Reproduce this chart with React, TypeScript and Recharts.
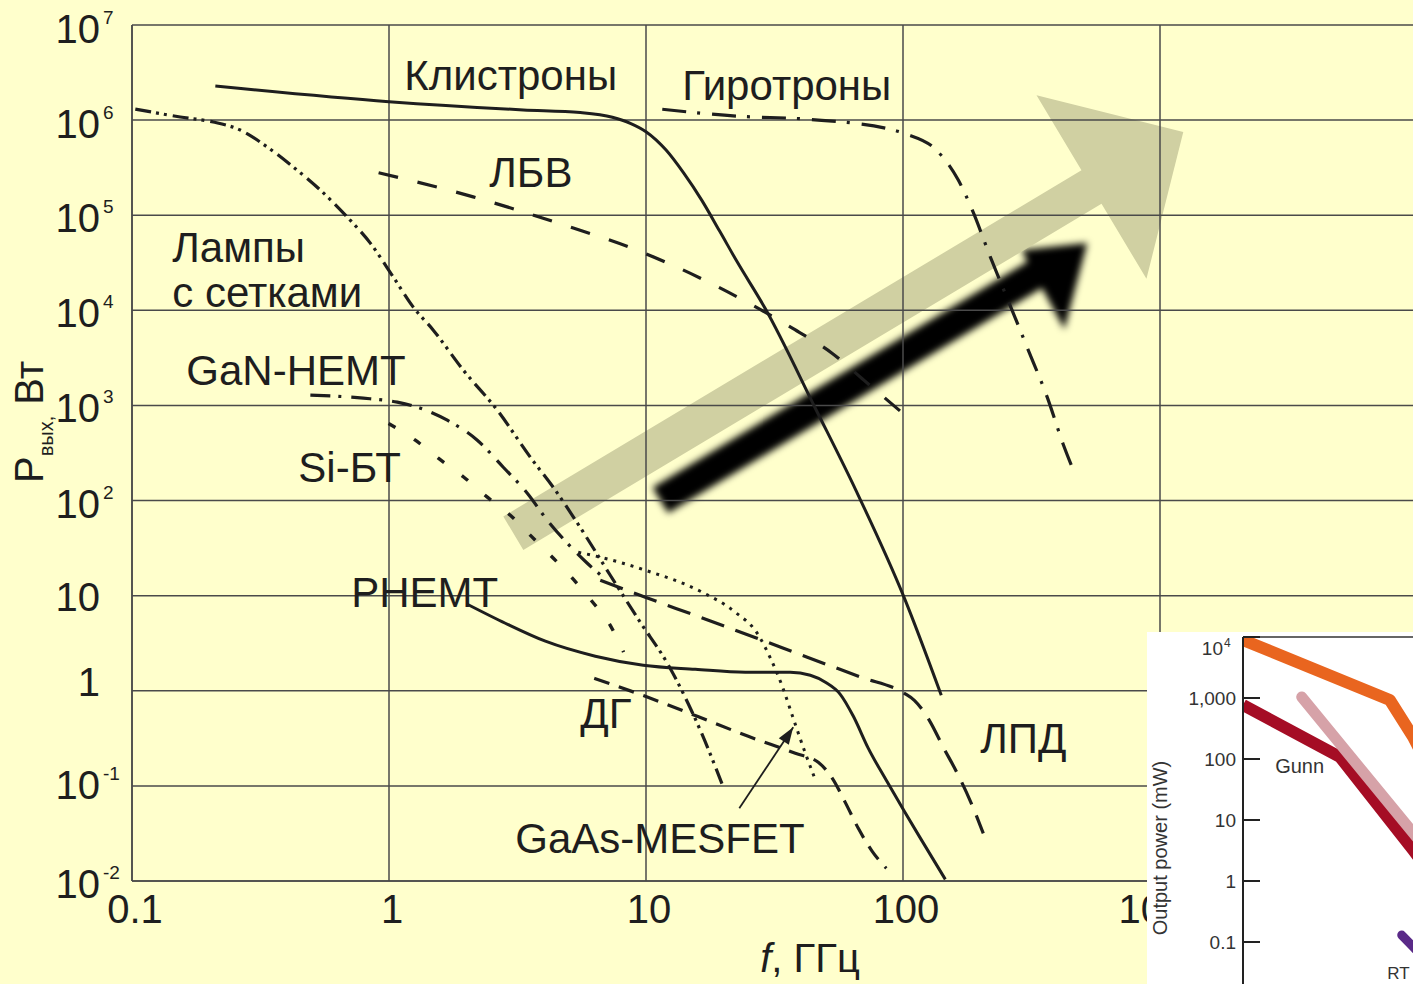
import React from 'react';
import { LineChart, Line, XAxis, YAxis, CartesianGrid, ReferenceLine, ReferenceDot } from 'recharts';

const FONT = '"Liberation Sans", Arial, Helvetica, sans-serif';
const INK = '#1e1e1e';
const GRID = '#4a4a4a';
const BG = '#FFFFCC';

// ---------- main chart axes ----------
const freqTicks = [0.1, 1, 10, 100, 1000];
const freqTickLabels = ['0.1', '1', '10', '100', '1000'];
const powerTicks = [0.01, 0.1, 1, 10, 100, 1000, 1e4, 1e5, 1e6, 1e7];
const powerTickBase = ['10', '10', '1', '10', '10', '10', '10', '10', '10', '10'];
const powerTickExp = ['-2', '-1', '', '', '2', '3', '4', '5', '6', '7'];

// ---------- main chart series (f in GHz, P in W) ----------
const klystronF = [0.211, 1.0, 3.33, 5.55, 7.4, 8.69, 10.0, 11.97, 14.05, 16.47, 19.34, 22.66, 29.07, 46.0, 65.6, 100.8, 140.9];
const klystronP = [2.28e6, 1.56e6, 1.28e6, 1.2e6, 1.07e6, 9.25e5, 7.55e5, 4.84e5, 2.75e5, 1.44e5, 6.81e4, 3.215e4, 1.05e4, 891, 128, 9.7, 0.896];

const gyrotronF = [11.57, 22.66, 43.05, 91.7, 102.8, 134.8, 164.1, 186.1, 218.6, 261, 308, 364, 420, 455];
const gyrotronP = [1.3e6, 1.1e6, 1.02e6, 7.86e5, 7.14e5, 4.84e5, 2.34e5, 1.13e5, 3.65e4, 1.13e4, 3750, 1222, 391, 224];

const twtF = [0.911, 2.126, 4.58, 9.56, 19.01, 37.25, 53.1, 70.4, 97.6];
const twtP = [2.8e5, 1.56e5, 8.21e4, 4.13e4, 1.77e4, 6450, 3522, 1845, 871];

const gridTubeF = [0.103, 0.1541, 0.2072, 0.2639, 0.3362, 0.4242, 0.5403, 0.6882, 0.8458, 1.039, 1.243, 1.487, 1.946, 2.638, 3.546, 4.437, 5.7, 7.26, 9.5, 12.1, 16.27, 20.0];
const gridTubeP = [1.307e6, 1.078e6, 9.54e5, 7.86e5, 5.21e5, 3.21e5, 1.84e5, 9.56e4, 5.09e4, 2.24e4, 1.08e4, 6190, 2350, 892, 286, 128.5, 46.5, 16.4, 5.25, 1.95, 0.384, 0.0966];

const ganF = [0.4943, 0.794, 1.077, 1.324, 1.686, 2.206, 2.784, 3.452, 4.13, 4.94, 5.91, 6.82];
const ganP = [1283, 1193, 1082, 936, 700, 431, 224, 119.5, 62.1, 35.6, 21.9, 15.6];

const impattF = [6.64, 9.94, 16.27, 26.39, 42.43, 68.8, 101.2, 110.7, 126.6, 143.5, 162.7, 184.4, 205.3];
const impattP = [14.53, 9.62, 5.93, 3.65, 2.25, 1.387, 0.941, 0.794, 0.489, 0.2544, 0.1355, 0.0655, 0.0317];

const siBtF = [0.996, 1.266, 1.56, 1.951, 2.406, 2.965, 3.6, 4.37, 5.21, 6.16, 7.26, 8.18];
const siBtP = [646, 431, 277, 177, 109.2, 70.1, 41.5, 24.6, 14.9, 8.74, 4.88, 2.55];

const phemtF = [2.017, 2.835, 4.06, 6.35, 9.76, 15.55, 24.34, 36.4, 43.6, 49.9, 57.0, 64.1, 73.3, 86.1, 101.2, 118.9, 146.1];
const phemtP = [8.125, 5.13, 3.32, 2.31, 1.854, 1.683, 1.565, 1.565, 1.455, 1.228, 0.918, 0.539, 0.248, 0.1144, 0.054, 0.0261, 0.0104];

const gunnF = [6.29, 9.94, 15.83, 25.0, 38.1, 46.8, 53.1, 59.6, 67.0, 75.9, 86.1];
const gunnP = [1.353, 0.875, 0.539, 0.332, 0.22, 0.177, 0.12, 0.0671, 0.0358, 0.0205, 0.0136];

const mesfetF = [5.45, 6.64, 9.94, 16.27, 22.26, 27.1, 30.5, 33.9, 37.4, 41.3, 45.2];
const mesfetP = [28.6, 25.4, 18.5, 11.13, 6.69, 4.02, 2.196, 1.115, 0.514, 0.2366, 0.123];

// ---------- in-plot labels ----------
const labelTexts = ['Клистроны', 'Гиротроны', 'ЛБВ', 'Лампы', 'с сетками', 'GaN-HEMT', 'Si-БТ', 'PHEMT', 'ДГ', 'GaAs-MESFET', 'ЛПД'];
const labelF = [1.147, 13.84, 2.456, 0.1435, 0.1435, 0.1627, 0.4437, 0.713, 5.55, 3.1, 199.9];
const labelP = [2.07e6, 1.626e6, 1.977e5, 3.215e4, 1.08e4, 1634, 156, 7.55, 0.403, 0.01953, 0.22];

// ---------- arrows (data coordinates: from -> to) ----------
const trendArrowF = [3.046, 1232];
const trendArrowP = [45.4, 7.49e5];
const shadowArrowF = [11.37, 521];
const shadowArrowP = [100.8, 5.09e4];
const pointerF = [23.07, 37.4];
const pointerP = [0.0581, 0.413];

// ---------- inset chart ----------
const insetTicks = [0.1, 1, 10, 100, 1000, 10000];
const insetTickLabels = ['0.1', '1', '10', '100', '1,000', '10'];
const insetTickExp = ['', '', '', '', '', '4'];
const insetOrangeF = [10, 76, 105, 152];
const insetOrangeP = [8930, 927, 230, 31];
const insetRedF = [10, 38.2, 105, 152];
const insetRedP = [767, 108, 3.22, 0.86];
const insetPinkF = [22.5, 105, 152];
const insetPinkP = [1038, 6.12, 1.76];
const insetPurpleF = [89.6, 105, 152];
const insetPurpleP = [0.13, 0.083, 0.0288];
const insetLabelTexts = ['Gunn', 'RT'];
const insetLabelF = [15.6, 73.3];
const insetLabelP = [58.9, 0.0245];

const zip = (f: number[], p: number[]) => f.map((v, i) => ({ f: v, p: p[i] }));

const sameLog = (a: number, b: number) => Math.abs(Math.log10(a) - Math.log10(b)) < 1e-6;

// style offsets for y tick labels (baseline below grid line)
const POWER_TICK_DY = [17, 13, 5, 15, 17, 17, 17, 17, 18, 18];

const PowerTick = (props: any) => {
  const { x, y, payload } = props;
  const i = powerTicks.findIndex((t) => sameLog(t, payload.value));
  if (i < 0) return null;
  const by = y + POWER_TICK_DY[i];
  return (
    <g>
      <text x={x - 32} y={by} textAnchor="end" fontSize={40} fill={INK} fontFamily={FONT}>
        {powerTickBase[i]}
      </text>
      {powerTickExp[i] ? (
        <text x={x - 29} y={by - 19} textAnchor="start" fontSize={19} fill={INK} fontFamily={FONT}>
          {powerTickExp[i]}
        </text>
      ) : null}
    </g>
  );
};

const FreqTick = (props: any) => {
  const { x, y, payload } = props;
  const i = freqTicks.findIndex((t) => sameLog(t, payload.value));
  if (i < 0) return null;
  return (
    <text x={x + 3} y={y + 42} textAnchor="middle" fontSize={40} fill={INK} fontFamily={FONT}>
      {freqTickLabels[i]}
    </text>
  );
};

const renderXTitle = (props: any) => {
  const vb = (props && props.viewBox) || {};
  const x0 = vb.x ?? 132;
  const y0 = vb.y ?? 881;
  return (
    <text x={x0 + 678} y={y0 + 91} textAnchor="middle" fontSize={40} fill={INK} fontFamily={FONT}>
      <tspan fontStyle="italic">f</tspan>
      <tspan>, ГГц</tspan>
    </text>
  );
};

const renderYTitle = (props: any) => {
  const vb = (props && props.viewBox) || {};
  const cx = (vb.x ?? 0) + 43;
  const cy = (vb.y ?? 25) + 397;
  return (
    <text x={cx} y={cy} transform={`rotate(-90 ${cx} ${cy})`} textAnchor="middle" fontSize={40} fill={INK} fontFamily={FONT}>
      <tspan>P</tspan>
      <tspan fontSize={20} dy={10}>вых,</tspan>
      <tspan dy={-10}> Вт</tspan>
    </text>
  );
};

// arrow geometry helper: along (<0 = back from tip), across (>0 = upper-left side)
const arrowFrame = (x1: number, y1: number, x2: number, y2: number) => {
  const dx = x2 - x1;
  const dy = y2 - y1;
  const len = Math.hypot(dx, dy) || 1;
  const ux = dx / len;
  const uy = dy / len;
  const nx = uy;
  const ny = -ux;
  const pt = (along: number, across: number) =>
    `${x2 + along * ux + across * nx},${y2 + along * uy + across * ny}`;
  return { len, pt };
};

const validSeg = (p: any) => [p.x1, p.y1, p.x2, p.y2].every((v) => typeof v === 'number' && isFinite(v));

const trendArrowShape = (props: any) => {
  if (!validSeg(props)) return <g />;
  const { x1, y1, x2, y2 } = props;
  const { len, pt } = arrowFrame(x1, y1, x2, y2);
  const pts = [pt(-len, 19.5), pt(-107, 19.5), pt(-107, 107), pt(0, 0), pt(-107, -107), pt(-107, -19.5), pt(-len, -19.5)].join(' ');
  return <polygon points={pts} fill="#D0D0A2" stroke="none" />;
};

const shadowArrowShape = (props: any) => {
  if (!validSeg(props)) return <g />;
  const { x1, y1, x2, y2 } = props;
  const { len, pt } = arrowFrame(x1, y1, x2, y2);
  const shaft = [pt(-len, 15), pt(-58, 15), pt(-58, -15), pt(-len, -15)].join(' ');
  const head = [pt(0, 0), pt(-60, 28), pt(-64, -62)].join(' ');
  return (
    <g>
      <defs>
        <filter id="shadowBlur" x="-20%" y="-20%" width="140%" height="140%">
          <feGaussianBlur stdDeviation="3.5" />
        </filter>
      </defs>
      <g filter="url(#shadowBlur)">
        <polygon points={shaft} fill="#000" />
        <polygon points={head} fill="#000" />
      </g>
    </g>
  );
};

const pointerShape = (props: any) => {
  if (!validSeg(props)) return <g />;
  const { x1, y1, x2, y2 } = props;
  const { pt } = arrowFrame(x1, y1, x2, y2);
  const head = [pt(0, 0), pt(-17, 6), pt(-17, -6)].join(' ');
  return (
    <g>
      <line x1={x1} y1={y1} x2={x2} y2={y2} stroke={INK} strokeWidth={1.8} />
      <polygon points={head} fill={INK} />
    </g>
  );
};

const textShape = (text: string, size: number, color: string) => (p: any) => (
  <text x={p.cx} y={p.cy} fontSize={size} fill={color} fontFamily={FONT}>
    {text}
  </text>
);

const InsetTick = (props: any) => {
  const { x, y, payload } = props;
  const i = insetTicks.findIndex((t) => sameLog(t, payload.value));
  if (i < 0) return null;
  return (
    <g>
      <line x1={x} x2={x + 17} y1={y} y2={y} stroke="#222" strokeWidth={2} />
      {insetTickExp[i] ? (
        <g>
          <text x={x - 20} y={y + 18} textAnchor="end" fontSize={19} fill="#333" fontFamily={FONT}>
            {insetTickLabels[i]}
          </text>
          <text x={x - 19} y={y + 10} textAnchor="start" fontSize={12} fill="#333" fontFamily={FONT}>
            {insetTickExp[i]}
          </text>
        </g>
      ) : (
        <text x={x - 7} y={y + 7} textAnchor="end" fontSize={19} fill="#333" fontFamily={FONT}>
          {insetTickLabels[i]}
        </text>
      )}
    </g>
  );
};

const renderInsetTitle = (props: any) => {
  const vb = (props && props.viewBox) || {};
  const cx = (vb.x ?? 0) + 20;
  const cy = (vb.y ?? 5) + 211;
  return (
    <text x={cx} y={cy} transform={`rotate(-90 ${cx} ${cy})`} textAnchor="middle" fontSize={20} fill="#333" fontFamily={FONT}>
      Output power (mW)
    </text>
  );
};

const klystronData = zip(klystronF, klystronP);
const gyrotronData = zip(gyrotronF, gyrotronP);
const twtData = zip(twtF, twtP);
const gridTubeData = zip(gridTubeF, gridTubeP);
const ganData = zip(ganF, ganP);
const impattData = zip(impattF, impattP);
const siBtData = zip(siBtF, siBtP);
const phemtData = zip(phemtF, phemtP);
const gunnData = zip(gunnF, gunnP);
const mesfetData = zip(mesfetF, mesfetP);

export default function App() {
  const lineCommon = { dataKey: 'p', type: 'monotone' as const, stroke: INK, dot: false, activeDot: false, isAnimationActive: false };
  return (
    <div style={{ position: 'fixed', left: 0, top: 0, width: 1413, height: 984, overflow: 'hidden', background: BG, fontFamily: FONT }}>
      <div style={{ position: 'absolute', left: 0, top: 0 }}>
        <LineChart width={1417} height={984} margin={{ top: 25, right: 0, bottom: 0, left: 0 }}>
          <XAxis
            type="number"
            dataKey="f"
            scale="log"
            domain={[0.1, 10000]}
            allowDataOverflow
            ticks={freqTicks}
            interval={0}
            height={103}
            tickSize={0}
            tickMargin={0}
            tickLine={false}
            tick={<FreqTick />}
            axisLine={{ stroke: GRID, strokeWidth: 1.5 }}
            label={renderXTitle}
          />
          <YAxis
            type="number"
            scale="log"
            domain={[0.01, 1e7]}
            allowDataOverflow
            ticks={powerTicks}
            interval={0}
            width={132}
            tickSize={0}
            tickMargin={0}
            tickLine={false}
            tick={<PowerTick />}
            axisLine={{ stroke: GRID, strokeWidth: 1.5 }}
            label={renderYTitle}
          />
          <ReferenceLine
            segment={[{ x: shadowArrowF[0], y: shadowArrowP[0] }, { x: shadowArrowF[1], y: shadowArrowP[1] }]}
            ifOverflow="visible"
            shape={shadowArrowShape}
            zIndex={-300}
          />
          <ReferenceLine
            segment={[{ x: trendArrowF[0], y: trendArrowP[0] }, { x: trendArrowF[1], y: trendArrowP[1] }]}
            ifOverflow="visible"
            shape={trendArrowShape}
            zIndex={-250}
          />
          <CartesianGrid stroke={GRID} strokeWidth={1.5} zIndex={-100} />

          <Line {...lineCommon} data={klystronData} strokeWidth={3} />
          <Line {...lineCommon} data={gyrotronData} strokeWidth={3.2} strokeDasharray="24 11 3 12" />
          <Line {...lineCommon} data={twtData} strokeWidth={3.2} strokeDasharray="20 20" />
          <Line {...lineCommon} data={gridTubeData} strokeWidth={3.2} strokeDasharray="16 5 3 5 3 6" />
          <Line {...lineCommon} data={ganData} strokeWidth={3.2} strokeDasharray="20 8 3 10" />
          <Line {...lineCommon} data={impattData} strokeWidth={3.2} strokeDasharray="24 12" />
          <Line {...lineCommon} data={siBtData} strokeWidth={3.4} strokeDasharray="8 22" />
          <Line {...lineCommon} data={phemtData} strokeWidth={3} />
          <Line {...lineCommon} data={gunnData} strokeWidth={3.2} strokeDasharray="16 10" />
          <Line {...lineCommon} data={mesfetData} strokeWidth={3} strokeDasharray="3 6" />

          <ReferenceLine
            segment={[{ x: pointerF[0], y: pointerP[0] }, { x: pointerF[1], y: pointerP[1] }]}
            ifOverflow="visible"
            shape={pointerShape}
          />
          {labelTexts.map((t, i) => (
            <ReferenceDot key={t} x={labelF[i]} y={labelP[i]} r={0} ifOverflow="visible" shape={textShape(t, 42, INK)} />
          ))}
        </LineChart>
      </div>

      <div style={{ position: 'absolute', left: 1147, top: 632, width: 400, height: 400, background: '#FFFFFF' }}>
        <LineChart width={596} height={371} margin={{ top: 5, right: 0, bottom: 0, left: 0 }}>
          <XAxis type="number" dataKey="f" scale="log" domain={[10, 10000]} allowDataOverflow hide />
          <YAxis
            type="number"
            scale="log"
            domain={[0.01, 10000]}
            allowDataOverflow
            ticks={insetTicks}
            interval={0}
            width={96}
            tickSize={0}
            tickMargin={0}
            tickLine={false}
            tick={<InsetTick />}
            axisLine={{ stroke: '#222', strokeWidth: 2 }}
            label={renderInsetTitle}
          />
          <ReferenceLine y={10000} stroke="#333" strokeWidth={1.5} ifOverflow="visible" />
          <Line data={zip(insetOrangeF, insetOrangeP)} dataKey="p" type="linear" stroke="#E9651F" strokeWidth={12} strokeLinejoin="round" dot={false} activeDot={false} isAnimationActive={false} />
          <Line data={zip(insetRedF, insetRedP)} dataKey="p" type="linear" stroke="#A50D25" strokeWidth={12} strokeLinejoin="round" dot={false} activeDot={false} isAnimationActive={false} />
          <Line data={zip(insetPinkF, insetPinkP)} dataKey="p" type="linear" stroke="#D6A2A8" strokeWidth={11} strokeLinecap="round" strokeLinejoin="round" dot={false} activeDot={false} isAnimationActive={false} />
          <Line data={zip(insetPurpleF, insetPurpleP)} dataKey="p" type="linear" stroke="#5A2A88" strokeWidth={9} strokeLinecap="round" strokeLinejoin="round" dot={false} activeDot={false} isAnimationActive={false} />
          {insetLabelTexts.map((t, i) => (
            <ReferenceDot key={t} x={insetLabelF[i]} y={insetLabelP[i]} r={0} ifOverflow="visible" shape={textShape(t, i === 1 ? 17 : 20, '#333')} />
          ))}
        </LineChart>
      </div>
    </div>
  );
}
